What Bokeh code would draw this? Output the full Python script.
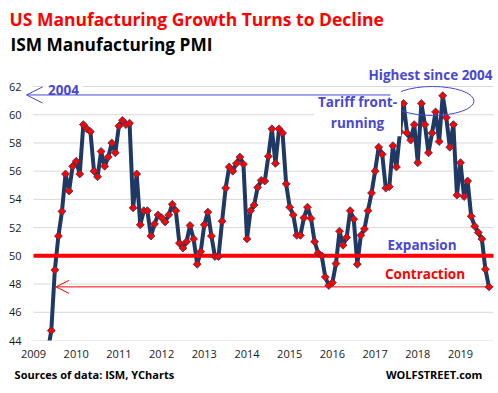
from bokeh.plotting import figure
from bokeh.models import (Range1d, FixedTicker, Label, Arrow, OpenHead, Title, LinearAxis)
from bokeh.embed import file_html
from bokeh.resources import INLINE

# ---------------- data (ISM Manufacturing PMI, monthly) ----------------
years = list(range(2009, 2020))
y_ticks = [44, 46, 48, 50, 52, 54, 56, 58, 60, 62]
first_month = 4  # series starts in May 2009 (0-based month index)
pmi_2009 = [43.2, 44.7, 49.0, 51.4, 53.15, 55.8, 54.6, 56.35]
pmi_2010 = [56.7, 55.8, 59.3, 59.0, 58.8, 56.0, 55.6, 57.4, 56.35, 57.0, 58.0, 57.3]
pmi_2011 = [59.2, 59.6, 59.3, 59.4, 53.4, 55.8, 52.2, 53.2, 53.2, 51.4, 52.25, 52.9]
pmi_2012 = [52.7, 52.4, 52.9, 53.65, 53.2, 50.9, 50.55, 51.0, 52.15, 51.2, 49.4, 50.3]
pmi_2013 = [52.2, 53.1, 51.4, 49.95, 49.95, 52.45, 54.8, 56.3, 56.0, 56.55, 57.0, 56.5]
pmi_2014 = [51.2, 53.2, 53.6, 54.85, 55.35, 55.3, 57.05, 59.0, 56.55, 59.0, 58.7, 55.1]
pmi_2015 = [53.45, 52.9, 51.45, 51.45, 52.7, 53.45, 52.65, 51.0, 50.2, 50.0, 48.5, 47.9]
pmi_2016 = [48.1, 49.45, 51.75, 50.75, 51.3, 53.2, 52.6, 49.4, 51.45, 51.9, 53.2, 54.45]
pmi_2017 = [56.0, 57.7, 57.2, 54.8, 54.9, 57.8, 56.3, 58.8, 60.8, 58.7, 58.2, 59.3]
pmi_2018 = [56.6, 60.8, 59.3, 57.3, 58.7, 60.2, 58.1, 61.35, 59.8, 57.7, 59.3, 54.3]
pmi_2019 = [56.6, 54.2, 55.3, 52.8, 52.1, 51.65, 51.2, 49.05, 47.8]

threshold = 50
record_level = 61.4   # level marked by the "2004" arrow
source_text = "Sources of data: ISM, YCharts"
site_text = "WOLFSTREET.com"

values = (pmi_2009 + pmi_2010 + pmi_2011 + pmi_2012 + pmi_2013 + pmi_2014 +
          pmi_2015 + pmi_2016 + pmi_2017 + pmi_2018 + pmi_2019)
dates = [years[0] + (first_month + i) / 12 for i in range(len(values))]

# ---------------- layout (pixel geometry) ----------------
W, H = 498, 393
FL, FT, FB = 24, 58, 340          # frame left / top / bottom (px)
X_PX0, PXY = 33, 42.7              # pixel of Jan 2009, pixels per year
Y_PX62, PXU = 86, (340 - 86) / 18  # pixel of 62, pixels per PMI point


def dx(px):
    return years[0] + (px - X_PX0) / PXY


def dy(py):
    return y_ticks[-1] - (py - Y_PX62) / PXU


NAVY = "#1F3864"
RED = "#FF0000"
BLUE = "#4848D4"
FONT = "Open Sans"

p = figure(width=W, height=H, output_backend="svg", toolbar_location=None,
           x_range=Range1d(dx(FL), dx(W)), y_range=Range1d(y_ticks[0], dy(FT)),
           min_border_left=FL, min_border_right=0, min_border_top=FT,
           min_border_bottom=H - FB)
p.outline_line_color = None
p.background_fill_color = "white"
p.border_fill_color = "white"
p.xgrid.visible = False
p.ygrid.visible = False

for ax in (p.xaxis[0], p.yaxis[0]):
    ax.axis_line_color = None
    ax.major_tick_line_color = None
    ax.minor_tick_line_color = None
    ax.major_tick_out = 0
    ax.major_tick_in = 0
    ax.minor_tick_out = 0
    ax.minor_tick_in = 0
    ax.major_label_text_font = FONT
    ax.major_label_text_font_size = "11px"
    ax.major_label_text_color = "#1a1a1a"

p.xaxis.ticker = FixedTicker(ticks=years)
p.xaxis.major_label_overrides = {y: str(y) for y in years}
p.xaxis.major_label_standoff = 9
p.yaxis.ticker = FixedTicker(ticks=y_ticks)
p.yaxis.major_label_overrides = {t: str(t) for t in y_ticks}
p.yaxis.major_label_standoff = 3

# footer line (sources / site) as a second bottom axis of text labels
foot_ticks = [round(dx(93.9), 4), round(dx(433.7), 4)]
foot = LinearAxis(ticker=FixedTicker(ticks=foot_ticks),
                  major_label_overrides={foot_ticks[0]: source_text, foot_ticks[1]: site_text},
                  axis_line_color=None, major_tick_line_color=None, minor_tick_line_color=None,
                  major_tick_out=0, major_tick_in=0, minor_tick_out=0, minor_tick_in=0,
                  major_label_standoff=6, major_label_text_font=FONT,
                  major_label_text_font_size="11px", major_label_text_font_style="bold",
                  major_label_text_color="#000000")
p.add_layout(foot, "below")

# titles
p.add_layout(Title(text="ISM Manufacturing  PMI", align="left", offset=-14, standoff=6,
                   text_font=FONT, text_font_size="17.3px", text_font_style="bold",
                   text_color="#000000"), "above")
p.add_layout(Title(text="US Manufacturing  Growth Turns to Decline", align="left", offset=-15,
                   standoff=-7, text_font=FONT, text_font_size="17.5px", text_font_style="bold",
                   text_color=RED), "above")

# gridlines
x_right = dx(493)
p.segment(x0=[years[0]] * len(y_ticks), y0=y_ticks, x1=[x_right] * len(y_ticks), y1=y_ticks,
          line_color="#D9D9D9", line_width=1)

# data line
p.line(dates, values, line_color=NAVY, line_width=4, line_join="round")

# 50 line
p.segment(x0=[years[0]], y0=[threshold], x1=[x_right], y1=[threshold],
          line_color=RED, line_width=4)

# markers
p.scatter(dates, values, marker="square", angle=0.785398, size=5.6,
          fill_color=RED, line_color=NAVY, line_width=0.8)

# ellipse around the peaks
p.ellipse(x=[dx(432)], y=[dy(100.5)], width=[dx(473) - dx(390)],
          height=[dy(86) - dy(115)], fill_color=None, line_color=BLUE, line_width=1)


def lab(text, px, py, size, color, align="left", bg=None):
    kw = dict(background_fill_color=bg, padding=4) if bg else {}
    p.add_layout(Label(x=dx(px), y=dy(py), text=text, text_font=FONT,
                       text_font_style="bold", text_font_size=size, text_color=color,
                       text_baseline="alphabetic", text_align=align, **kw))


lab("Highest since 2004", 430, 74, "13.5px", BLUE, "center")
lab("Expansion", 421.5, 244.5, "13.5px", BLUE, "center")
lab("Contraction", 424.5, 273.5, "13.5px", RED, "center")
lab("2004", 63, 89, "13.5px", BLUE, "center", "white")
lab("Tariff front-\nrunning", 357, 112, "13.5px", BLUE, "center", "white")

# arrows
p.add_layout(Arrow(end=OpenHead(size=16, line_color=BLUE, line_width=1),
                   x_start=dx(390), y_start=record_level, x_end=dx(26), y_end=record_level,
                   line_color=BLUE, line_width=1))
p.add_layout(Arrow(end=OpenHead(size=13, line_color=RED, line_width=1),
                   x_start=x_right, y_start=pmi_2019[-1], x_end=dx(55.5), y_end=pmi_2019[-1],
                   line_color=RED, line_width=1))

open("out.html", "w").write(file_html(p, INLINE))
